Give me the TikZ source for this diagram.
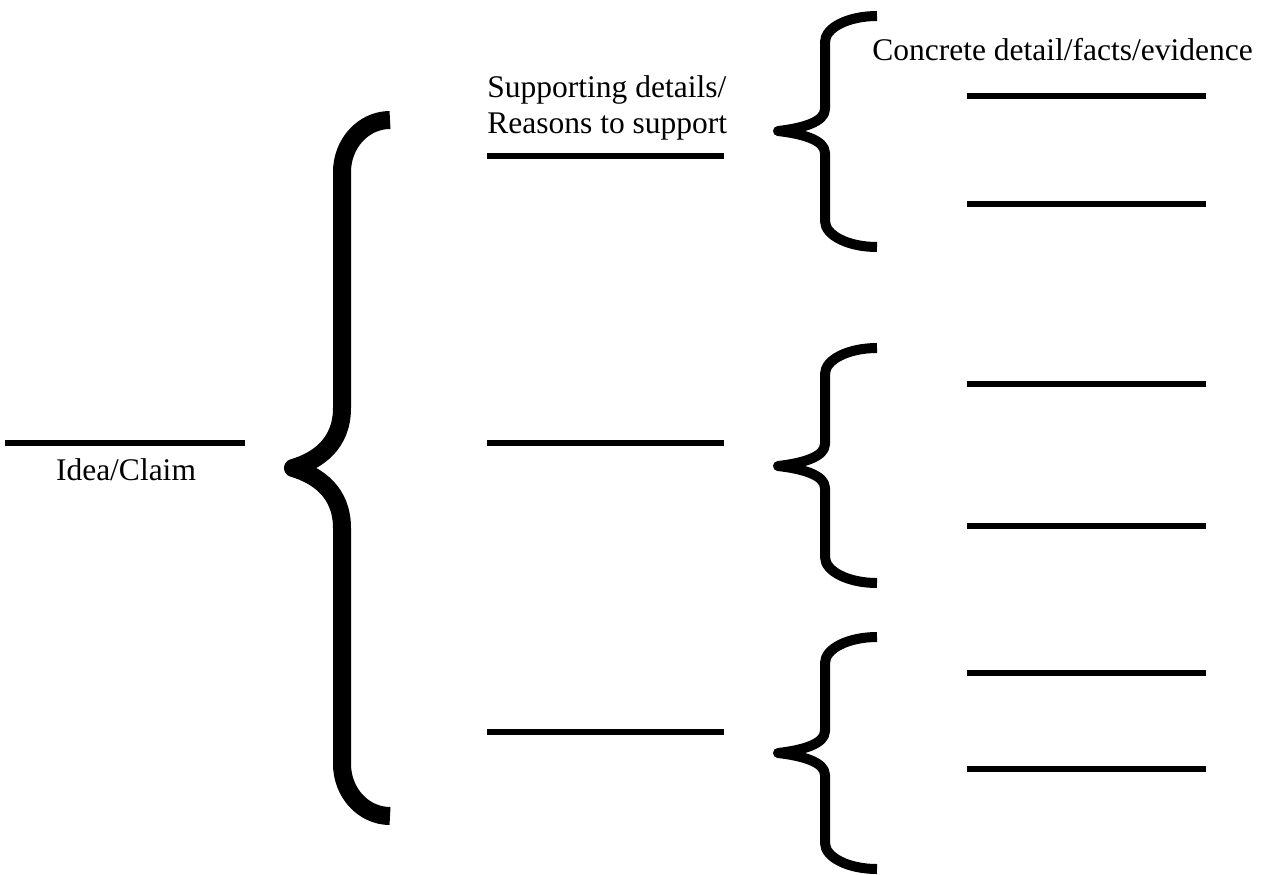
\documentclass[tikz,border=0pt]{standalone}
\usepackage{fontspec}
\setmainfont{Liberation Serif}

% A curly brace opening to the right, drawn as one thick stroke.
% #1 end x, #2 stem x, #3 tip x, #4 top y, #5 tip y, #6 bottom y,
% #7 height of the end bends, #8 height of the tip bends
\newcommand\curlybrace[9][]{%
  \draw[#1] (#2,#5)
    .. controls ({#3+0.448*(#2-#3)},#5) and (#3,{#5+0.448*#8}) .. (#3,{#5+#8})
    -- (#3,{#6-#9})
    .. controls (#3,{#6-0.40*#9}) and ({#4+0.50*(#3-#4)},{#6-0.12*#9}) .. (#4,#6)
    .. controls ({#4+0.50*(#3-#4)},{#6+0.12*#9}) and (#3,{#6+0.40*#9}) .. (#3,{#6+#9})
    -- (#3,{#7-#8})
    .. controls (#3,{#7-0.448*#8}) and ({#3+0.448*(#2-#3)},#7) .. (#2,#7);}

\tikzset{
  blank/.style={line width=3pt},
  bigbrace/.style={line width=9pt, line join=round, line cap=butt},
  smallbrace/.style={line width=5pt, line join=round, line cap=butt},
  label/.style={inner sep=0pt, font=\fontsize{15.75}{18}\selectfont},
}

\begin{document}
\begin{tikzpicture}[x=0.5pt, y=-0.5pt]
  \useasboundingbox[fill=white] (0,0) rectangle (1265,874);

  % main idea
  \draw[blank] (5,443) coordinate (ideaL) -- (245,443) coordinate (ideaR);
  \node[label, anchor=base] (idea) at (126,480) {Idea/Claim};

  % brace grouping the supporting reasons
  \curlybrace[bigbrace]{390}{342}{293}{120}{468}{816}{52}{60}

  % supporting reasons
  \node[label, anchor=base west] (sup1) at (487,97) {Supporting details/};
  \node[label, anchor=base west] (sup2) at (487,133) {Reasons to support};
  \draw[blank] (487,156) coordinate (r1L) -- (724,156) coordinate (r1R);
  \draw[blank] (487,443) coordinate (r2L) -- (724,443) coordinate (r2R);
  \draw[blank] (487,732) coordinate (r3L) -- (724,732) coordinate (r3R);

  % braces grouping the evidence for each reason
  \curlybrace[smallbrace]{877}{825}{778}{16}{131}{247}{26}{22}
  \curlybrace[smallbrace]{877}{825}{778}{348}{466}{583}{26}{22}
  \curlybrace[smallbrace]{877}{825}{778}{637}{753}{869}{26}{22}

  % evidence
  \node[label, anchor=base west] (ev) at (872,60) {Concrete detail/facts/evidence};
  \draw[blank] (967,96)  coordinate (e1L) -- (1206,96)  coordinate (e1R);
  \draw[blank] (967,204) coordinate (e2L) -- (1206,204) coordinate (e2R);
  \draw[blank] (967,384) coordinate (e3L) -- (1206,384) coordinate (e3R);
  \draw[blank] (967,526) coordinate (e4L) -- (1206,526) coordinate (e4R);
  \draw[blank] (967,673) coordinate (e5L) -- (1206,673) coordinate (e5R);
  \draw[blank] (967,769) coordinate (e6L) -- (1206,769) coordinate (e6R);
\end{tikzpicture}
\end{document}
